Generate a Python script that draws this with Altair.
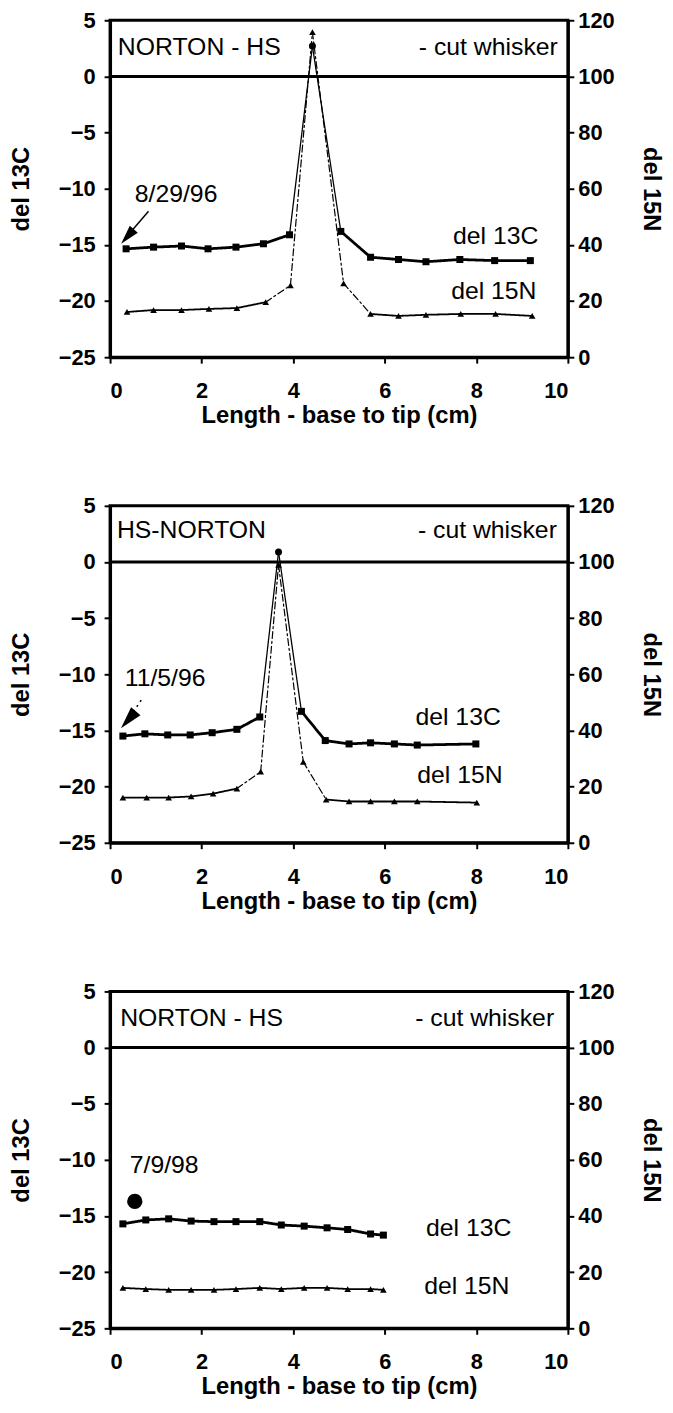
import altair as alt
import pandas as pd

FONT = "Liberation Sans"

# ---------------- data ----------------
X_TICKS = [0, 2, 4, 6, 8, 10]
C13_TICKS = [-25, -20, -15, -10, -5, 0, 5]
N15_TICKS = [0, 20, 40, 60, 80, 100, 120]

# Panel 1 : NORTON - HS, 8/29/96
p1_c13_len = [0.35, 0.95, 1.56, 2.14, 2.75, 3.35, 3.92, 4.42, 5.04, 5.69, 6.30, 6.90, 7.64, 8.40, 9.18]
p1_c13_val = [-15.35, -15.2, -15.1, -15.35, -15.2, -14.9, -14.1, 2.7, -13.8, -16.1, -16.3, -16.5, -16.3, -16.4, -16.4]
p1_n15_len = [0.37, 0.95, 1.56, 2.16, 2.77, 3.40, 3.94, 4.42, 5.10, 5.69, 6.30, 6.90, 7.66, 8.42, 9.22]
p1_n15_val = [16.1, 16.8, 16.8, 17.2, 17.5, 19.6, 25.6, 115.8, 26.3, 15.4, 14.7, 15.1, 15.4, 15.4, 14.7]

# Panel 2 : HS-NORTON, 11/5/96
p2_c13_len = [0.28, 0.76, 1.26, 1.75, 2.23, 2.77, 3.27, 3.68, 4.18, 4.70, 5.22, 5.69, 6.21, 6.71, 7.99]
p2_c13_val = [-15.5, -15.3, -15.4, -15.4, -15.2, -14.9, -13.8, 0.9, -13.3, -15.9, -16.2, -16.1, -16.2, -16.3, -16.2]
p2_n15_len = [0.28, 0.80, 1.28, 1.77, 2.25, 2.77, 3.29, 3.68, 4.22, 4.72, 5.22, 5.69, 6.21, 6.71, 8.01]
p2_n15_val = [16.1, 16.1, 16.1, 16.5, 17.5, 19.3, 25.3, 99.0, 28.8, 15.4, 14.7, 14.7, 14.7, 14.7, 14.3]

# Panel 3 : NORTON - HS, 7/9/98
p3_len = [0.28, 0.78, 1.28, 1.77, 2.27, 2.75, 3.27, 3.74, 4.24, 4.74, 5.19, 5.69, 5.97]
p3_c13_val = [-15.7, -15.35, -15.25, -15.45, -15.5, -15.5, -15.5, -15.8, -15.9, -16.05, -16.2, -16.6, -16.7]
p3_n15_val = [14.4, 14.0, 13.7, 13.7, 13.7, 14.0, 14.4, 14.0, 14.4, 14.4, 14.0, 14.0, 13.7]

# annotations (text, length, del 13C)
p1_left_text = [("NORTON - HS", 0.17, 2.6), ("8/29/96", 0.54, -10.5), ("del 13C", 7.49, -14.2), ("del 15N", 7.45, -19.1)]
p2_left_text = [("HS-NORTON", 0.15, 2.8), ("11/5/96", 0.32, -10.3), ("del 13C", 6.67, -13.85), ("del 15N", 6.71, -19.0)]
p3_left_text = [("NORTON - HS", 0.22, 2.6), ("7/9/98", 0.43, -10.45), ("del 13C", 6.9, -16.1), ("del 15N", 6.86, -21.2)]
p1_right_text = [("- cut whisker", 9.78, 2.6)]
p2_right_text = [("- cut whisker", 9.76, 2.8)]
p3_right_text = [("- cut whisker", 9.70, 2.6)]

# arrows: shaft (len, val, len2, val2), arrow-head centre (len, val)
p1_arrow = {"shaft": [0.84, -12.0, 0.40, -14.1], "head": [0.38, -14.25], "dash": [], "size": 380}
p2_arrow = {"shaft": [0.68, -12.3, 0.45, -13.7], "head": [0.40, -14.05], "dash": [2, 4], "size": 520}
p3_blob = [0.54, -13.7]

ARROW_PATH = "M0,-1L0.55,1L-0.55,1Z"
STEEP = "abs(datum.val2 - datum.val) > 3"

x_enc = alt.X("len:Q", scale=alt.Scale(domain=[0, 10], nice=False),
              axis=alt.Axis(values=X_TICKS, title="Length - base to tip (cm)",
                            labelPadding=18, titlePadding=2))
yc_enc = alt.Y("val:Q", scale=alt.Scale(domain=[-25, 5], nice=False),
               axis=alt.Axis(values=C13_TICKS, title="del 13C", orient="left",
                             labelPadding=9, titlePadding=25))
yn_enc = alt.Y("val:Q", scale=alt.Scale(domain=[0, 120], nice=False),
               axis=alt.Axis(values=N15_TICKS, title="del 15N", orient="right",
                             labelPadding=4, titlePadding=25))


def segments(df, y_enc, thick, thin, steep_dash):
    return (
        alt.Chart(df)
        .transform_window(len2="lead(len)", val2="lead(val)", sort=[alt.SortField("len")])
        .transform_filter("isValid(datum.len2)")
        .mark_rule(color="black", strokeCap="round")
        .encode(
            x=x_enc, y=y_enc, x2="len2:Q", y2="val2:Q",
            strokeWidth=alt.condition(STEEP, alt.value(thin), alt.value(thick)),
            strokeDash=alt.condition(STEEP, alt.value(steep_dash), alt.value([1, 0])),
        )
    )


def panel(c_len, c_val, n_len, n_val, ltext, rtext, arrow=None, blob=None):
    dc = pd.DataFrame({"len": c_len, "val": c_val})
    dn = pd.DataFrame({"len": n_len, "val": n_val})
    base_c = alt.Chart(dc).encode(x=x_enc, y=yc_enc)
    layers_c = [
        alt.Chart(pd.DataFrame({"val": [0]})).mark_rule(color="black", strokeWidth=3).encode(y=yc_enc),
        segments(dc, yc_enc, 2.8, 1.3, [1, 0]),
        base_c.mark_point(filled=True, color="black", size=50, opacity=1).encode(
            shape=alt.condition("datum.val > -5", alt.value("circle"), alt.value("square"))
        ),
    ]
    dl = pd.DataFrame(ltext, columns=["label", "len", "val"])
    dr = pd.DataFrame(rtext, columns=["label", "len", "val"])
    layers_c.append(alt.Chart(dl).mark_text(align="left", baseline="middle", font=FONT,
                                            fontSize=25, color="black")
                    .encode(x=x_enc, y=yc_enc, text="label:N"))
    layers_c.append(alt.Chart(dr).mark_text(align="right", baseline="middle", font=FONT,
                                            fontSize=25, color="black")
                    .encode(x=x_enc, y=yc_enc, text="label:N"))
    if arrow is not None:
        s = arrow["shaft"]
        ds = pd.DataFrame({"len": [s[0]], "val": [s[1]], "len2": [s[2]], "val2": [s[3]]})
        layers_c.append(alt.Chart(ds).mark_rule(color="black", strokeWidth=1.5,
                                                strokeDash=arrow["dash"] or [1, 0])
                        .encode(x=x_enc, y=yc_enc, x2="len2:Q", y2="val2:Q"))
        h = arrow["head"]
        dh = pd.DataFrame({"len": [h[0]], "val": [h[1]]})
        layers_c.append(alt.Chart(dh).mark_point(shape=ARROW_PATH, filled=True, color="black",
                                                 size=arrow["size"], angle=221, opacity=1)
                        .encode(x=x_enc, y=yc_enc))
    if blob is not None:
        db = pd.DataFrame({"len": [blob[0]], "val": [blob[1]]})
        layers_c.append(alt.Chart(db).mark_point(shape="circle", filled=True, color="black",
                                                 size=240, opacity=1)
                        .encode(x=x_enc, y=yc_enc))
    c_layer = alt.layer(*layers_c)
    base_n = alt.Chart(dn).encode(x=x_enc, y=yn_enc)
    n_layer = alt.layer(
        segments(dn, yn_enc, 1.8, 1.2, [7, 3, 2, 3]),
        base_n.mark_point(shape="triangle-up", filled=True, color="black", size=45, opacity=1),
    )
    return alt.layer(c_layer, n_layer).resolve_scale(y="independent").properties(width=462, height=340)


ch1 = panel(p1_c13_len, p1_c13_val, p1_n15_len, p1_n15_val, p1_left_text, p1_right_text, arrow=p1_arrow)
ch2 = panel(p2_c13_len, p2_c13_val, p2_n15_len, p2_n15_val, p2_left_text, p2_right_text, arrow=p2_arrow)
ch3 = panel(p3_len, p3_c13_val, p3_len, p3_n15_val, p3_left_text, p3_right_text, blob=p3_blob)

chart = (
    alt.vconcat(ch1, ch2, ch3, spacing=64)
    .properties(padding={"left": 0, "top": -7, "right": 0, "bottom": 0})
    .configure_view(stroke="black", strokeWidth=3)
    .configure_axis(
        grid=False,
        domainColor="black", domainWidth=3,
        tickColor="black", tickWidth=2, tickSize=6,
        labelFont=FONT, labelFontSize=22, labelFontWeight="bold", labelColor="black",
        titleFont=FONT, titleFontSize=24, titleFontWeight="bold", titleColor="black",
    )
)

chart.save("out.html", embed_options={"renderer": "svg", "actions": False})
